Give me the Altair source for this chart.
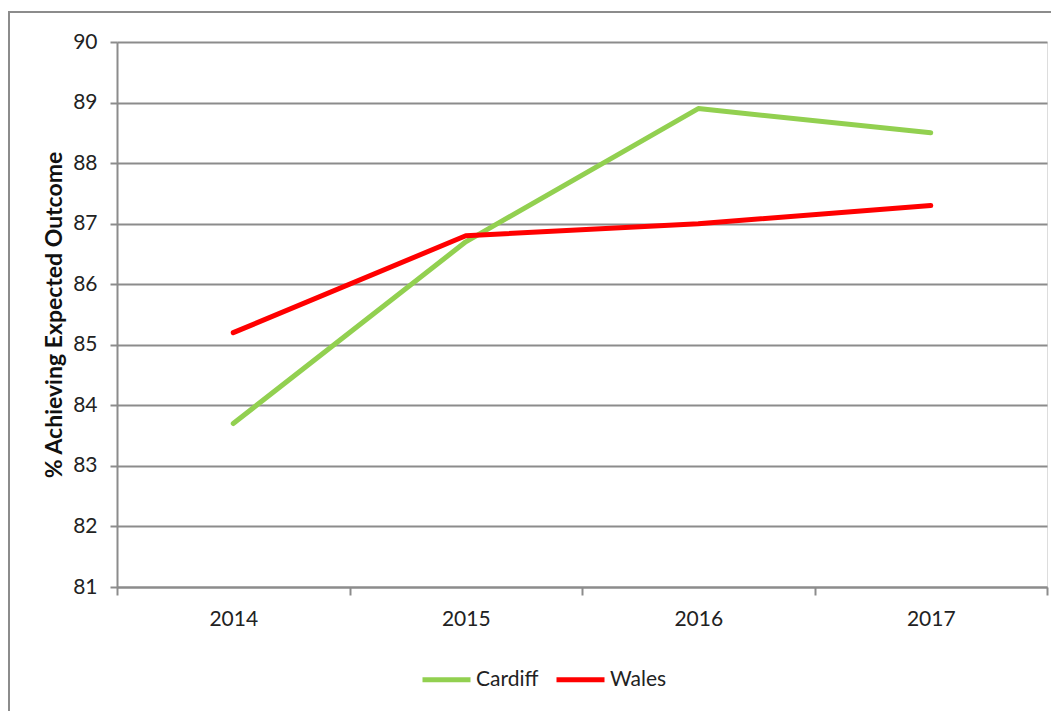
import altair as alt
import pandas as pd

years = ["2014", "2015", "2016", "2017"]
cardiff = [83.7, 86.7, 88.9, 88.5]
wales = [85.2, 86.8, 87.0, 87.3]
series_names = ["Cardiff", "Wales"]
series_colors = ["#92D050", "#FF0000"]

rows = []
for name, vals in zip(series_names, [cardiff, wales]):
    for y, v in zip(years, vals):
        rows.append({"Year": y, "Value": v, "Series": name})
df = pd.DataFrame(rows)

FONT = "Lato"

lines = alt.Chart(df).mark_line(strokeWidth=5, strokeCap="round", strokeJoin="round").encode(
    x=alt.X("Year:N", sort=years, scale=alt.Scale(paddingInner=0, paddingOuter=0),
            axis=alt.Axis(title=None, labelAngle=0, tickBand="extent", tickSize=8,
                          labelPadding=13, domainColor="#8c8c8c", tickColor="#8c8c8c",
                          domainWidth=2, tickWidth=2, labelFontSize=21, labelFont=FONT,
                          labelColor="#222222", grid=False)),
    y=alt.Y("Value:Q", scale=alt.Scale(domain=[81, 90], nice=False, zero=False),
            axis=alt.Axis(title="% Achieving Expected Outcome", values=list(range(81, 91)),
                          tickSize=7, labelPadding=13, domainColor="#8c8c8c", tickColor="#8c8c8c",
                          domainWidth=2, tickWidth=2, gridColor="#8c8c8c", gridWidth=2,
                          labelFontSize=21, labelFont=FONT, labelColor="#222222",
                          titleFont=FONT, titleFontSize=23, titleFontWeight="bold",
                          titleColor="#111111", titlePadding=6)),
    color=alt.Color("Series:N", sort=series_names,
                    scale=alt.Scale(domain=series_names, range=series_colors),
                    legend=alt.Legend(title=None, orient="none", direction="horizontal",
                                      legendX=303, legendY=611, symbolType="stroke",
                                      symbolSize=2304, symbolStrokeWidth=5,
                                      labelFontSize=21, labelFont=FONT, labelColor="#222222",
                                      labelOffset=3, columnPadding=7)),
)

border = alt.Chart(pd.DataFrame({"a": [0]})).mark_rect(
    fill=None, stroke="#8c8c8c", strokeWidth=2
).encode(
    x=alt.value(-108), x2=alt.value(960), y=alt.value(-30), y2=alt.value(700)
)

chart = alt.layer(border, lines).properties(
    width=930, height=545,
    padding={"left": 109, "top": 34, "right": 4, "bottom": 124},
    autosize=alt.AutoSizeParams(type="none"),
).configure_view(stroke=None).configure(background="white")

chart.save("out.html", embed_options={"renderer": "svg", "actions": False})
